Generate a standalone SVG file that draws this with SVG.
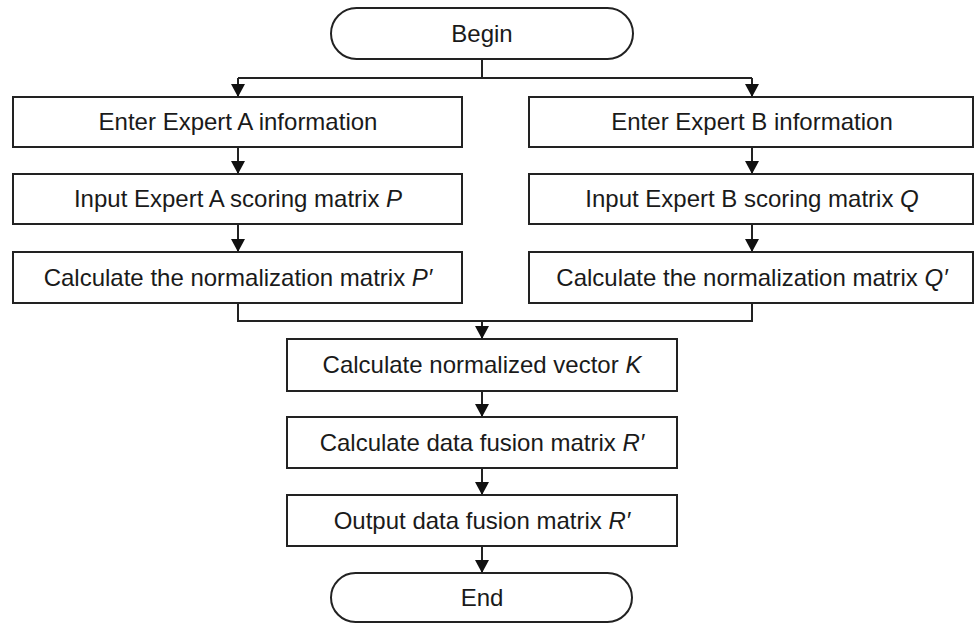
<svg xmlns="http://www.w3.org/2000/svg" width="975" height="624" viewBox="0 0 975 624">
<style>
.n{fill:#fff;stroke:#222;stroke-width:2}
.t{font-family:"Liberation Sans",Arial,sans-serif;font-size:24px;fill:#1a1a1a;text-anchor:middle}
.i{font-style:italic}
.c{fill:none;stroke:#222;stroke-width:2}
</style>
<defs>
<marker id="ah" markerUnits="userSpaceOnUse" markerWidth="14" markerHeight="15" refX="13" refY="7.5" orient="auto" viewBox="0 0 14 15">
<path d="M0,0.5 L13,7.5 L0,14.5 Z" fill="#111"/>
</marker>
</defs>
<rect width="975" height="624" fill="#fff"/>
<g id="connectors">
<path class="c" d="M482,59 V78"/>
<path class="c" d="M238,78 H752"/>
<path class="c" d="M238,78 V97" marker-end="url(#ah)"/>
<path class="c" d="M752,78 V97" marker-end="url(#ah)"/>
<path class="c" d="M238,147 V174" marker-end="url(#ah)"/>
<path class="c" d="M238,224 V252" marker-end="url(#ah)"/>
<path class="c" d="M752,147 V174" marker-end="url(#ah)"/>
<path class="c" d="M752,224 V252" marker-end="url(#ah)"/>
<path class="c" d="M238,303 V321 H752 V303"/>
<path class="c" d="M482,321 V339" marker-end="url(#ah)"/>
<path class="c" d="M482,391 V417" marker-end="url(#ah)"/>
<path class="c" d="M482,468 V495" marker-end="url(#ah)"/>
<path class="c" d="M482,546 V573" marker-end="url(#ah)"/>
</g>
<g id="begin"><rect class="n" x="331" y="8" width="302" height="51" rx="25.5"/><text class="t" x="482" y="42">Begin</text></g>
<g id="enterA"><rect class="n" x="13" y="97" width="449" height="50"/><text class="t" x="238" y="130">Enter Expert A information</text></g>
<g id="inputA"><rect class="n" x="13" y="174" width="449" height="50"/><text class="t" x="238" y="207">Input Expert A scoring matrix <tspan class="i">P</tspan></text></g>
<g id="normA"><rect class="n" x="13" y="252" width="449" height="51"/><text class="t" x="238" y="286">Calculate the normalization matrix <tspan class="i">P′</tspan></text></g>
<g id="enterB"><rect class="n" x="529" y="97" width="444" height="50"/><text class="t" x="752" y="130">Enter Expert B information</text></g>
<g id="inputB"><rect class="n" x="529" y="174" width="444" height="50"/><text class="t" x="752" y="207">Input Expert B scoring matrix <tspan class="i">Q</tspan></text></g>
<g id="normB"><rect class="n" x="529" y="252" width="444" height="51"/><text class="t" x="752" y="286">Calculate the normalization matrix <tspan class="i">Q′</tspan></text></g>
<g id="vecK"><rect class="n" x="287" y="339" width="390" height="52"/><text class="t" x="482" y="373">Calculate normalized vector <tspan class="i">K</tspan></text></g>
<g id="fusion"><rect class="n" x="287" y="417" width="390" height="51"/><text class="t" x="482" y="451">Calculate data fusion matrix <tspan class="i">R′</tspan></text></g>
<g id="output"><rect class="n" x="287" y="495" width="390" height="51"/><text class="t" x="482" y="529">Output data fusion matrix <tspan class="i">R′</tspan></text></g>
<g id="end"><rect class="n" x="331" y="573" width="301" height="49" rx="24.5"/><text class="t" x="482" y="606">End</text></g>
</svg>
